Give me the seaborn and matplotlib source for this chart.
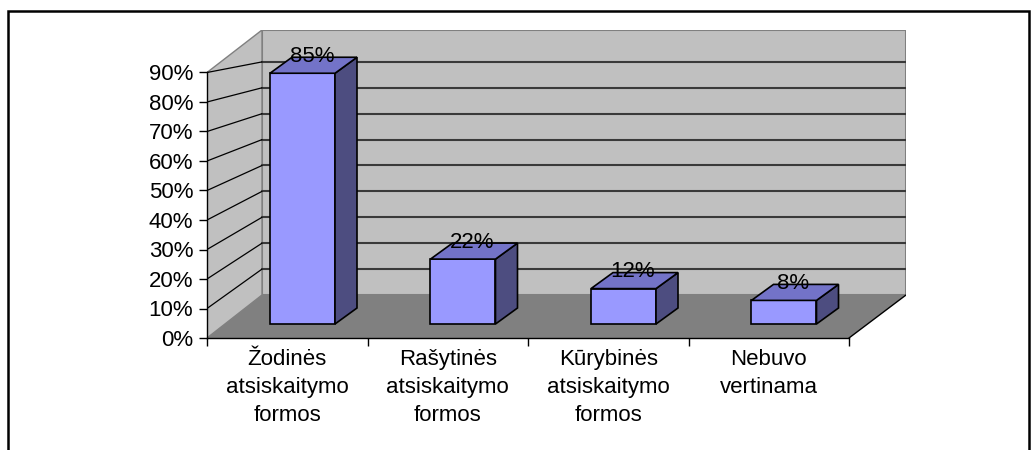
import numpy as np
import pandas as pd
import seaborn as sns
import matplotlib.pyplot as plt
from matplotlib.patches import Polygon, Rectangle

# duomenys
kategorijos = ['Žodinės\natsiskaitymo\nformos', 'Rašytinės\natsiskaitymo\nformos',
               'Kūrybinės\natsiskaitymo\nformos', 'Nebuvo\nvertinama']
reiksmes = [85, 22, 12, 8]
y_ticks = [0, 10, 20, 30, 40, 50, 60, 70, 80, 90]

df = pd.DataFrame({'kategorija': kategorijos, 'proc': reiksmes})

sns.set_style('white')
plt.rcParams['font.family'] = ['Liberation Sans', 'DejaVu Sans']
plt.rcParams['text.color'] = 'black'
plt.rcParams['xtick.color'] = 'black'
plt.rcParams['ytick.color'] = 'black'

W, H = 1034, 450
fig = plt.figure(figsize=(W / 100, H / 100), dpi=100)

# plotas pikseliais: kairė 207, dešinė 906, viršus 30, apačia 338
px_x = 160.5   # px per kategoriją
px_y = 2.95    # px per procentą
left_px, right_px, top_px, bot_px = 207, 906, 30, 338
ax = fig.add_axes([left_px / W, 1 - bot_px / H, (right_px - left_px) / W, (bot_px - top_px) / H])
ax.patch.set_alpha(0)
n = len(kategorijos)

# stulpeliai
sns.barplot(data=df, x='kategorija', y='proc', color='#9999FF', saturation=1,
            width=0.405, edgecolor='black', linewidth=1.2, ax=ax, zorder=3)

x_lim = (-0.5, -0.5 + (right_px - left_px) / px_x)
y_lim = (0, (bot_px - top_px) / px_y)
ax.set_xlim(*x_lim)
ax.set_ylim(*y_lim)

# 3D sienos
back0 = (bot_px - 295) / px_y       # galinės sienos 0 %
back_k = 2.59 / px_y                # galinės sienos mastelis
back_x0 = (262 - left_px) / px_x - 0.5
x_end = x_lim[1]
y_top = y_lim[1]

ax.add_patch(Polygon([(back_x0, back0), (x_end, back0), (x_end, y_top), (back_x0, y_top)],
                     closed=True, fc='#C0C0C0', ec='#808080', lw=1.5, zorder=0))
ax.add_patch(Polygon([(-0.5, 0), (-0.5, max(y_ticks)), (back_x0, y_top), (back_x0, back0)],
                     closed=True, fc='#C0C0C0', ec='#808080', lw=1.0, zorder=0))
ax.add_patch(Polygon([(-0.5, 0), (n - 0.5, 0), (x_end, back0), (back_x0, back0)],
                     closed=True, fc='#808080', ec='none', zorder=0.5))
ax.plot([n - 0.5, x_end], [0, back0], color='black', lw=1, zorder=1)

for v in y_ticks[1:]:
    yb = back0 + v * back_k
    ax.plot([back_x0, x_end], [yb, yb], color='#3A3A3A', lw=1.5, zorder=1)
    ax.plot([-0.5, back_x0], [v, yb], color='black', lw=0.9, zorder=1)

shift_x = 0.095
base = (bot_px - 324) / px_y
dx, dy = 22 / px_x, 16 / px_y
for p, val in zip(ax.patches[:n], reiksmes):
    p.set_x(p.get_x() + shift_x)
    p.set_y(base)
    x0, x1 = p.get_x(), p.get_x() + p.get_width()
    yt = base + p.get_height()
    ax.add_patch(Polygon([(x1, base), (x1 + dx, base + dy), (x1 + dx, yt + dy), (x1, yt)],
                         closed=True, fc='#4D4D80', ec='black', lw=1.2, zorder=3))
    ax.add_patch(Polygon([(x0, yt), (x1, yt), (x1 + dx, yt + dy), (x0 + dx, yt + dy)],
                         closed=True, fc='#7373C8', ec='black', lw=1.2, zorder=3))
    ax.text((x0 + x1) / 2 + 9.5 / px_x, yt + 17 / px_y, f'{val}%', ha='center', va='center',
            fontsize=16, zorder=4)

# ašys
sns.despine(ax=ax, top=True, right=True)
ax.spines['left'].set_bounds(0, max(y_ticks))
ax.spines['bottom'].set_bounds(-0.5, n - 0.5)
for s in ['left', 'bottom']:
    ax.spines[s].set_color('black')
    ax.spines[s].set_linewidth(1.0)
    ax.spines[s].set_zorder(2)

ax.set_yticks(y_ticks)
ax.set_yticklabels([f'{v}%' for v in y_ticks], fontsize=16)
ax.tick_params(axis='y', direction='out', length=6, width=1, color='black', pad=4, left=True)

ax.set_xticks(np.arange(n + 1) - 0.5)
ax.set_xticklabels([''] * (n + 1))
ax.tick_params(axis='x', which='major', direction='out', length=6, width=1, color='black', bottom=True)
ax.set_xticks(np.arange(n), minor=True)
ax.set_xticklabels(kategorijos, minor=True, fontsize=16, linespacing=1.42)
ax.tick_params(axis='x', which='minor', length=0, pad=8)
ax.set_xlabel('')
ax.set_ylabel('')

# rėmelis
fig.patches.append(Rectangle((8 / W, -0.2), (1029 - 8) / W, 1.2 - 11 / H, transform=fig.transFigure,
                             fill=False, ec='black', lw=1.8))

fig.savefig('out.png', dpi=100)
